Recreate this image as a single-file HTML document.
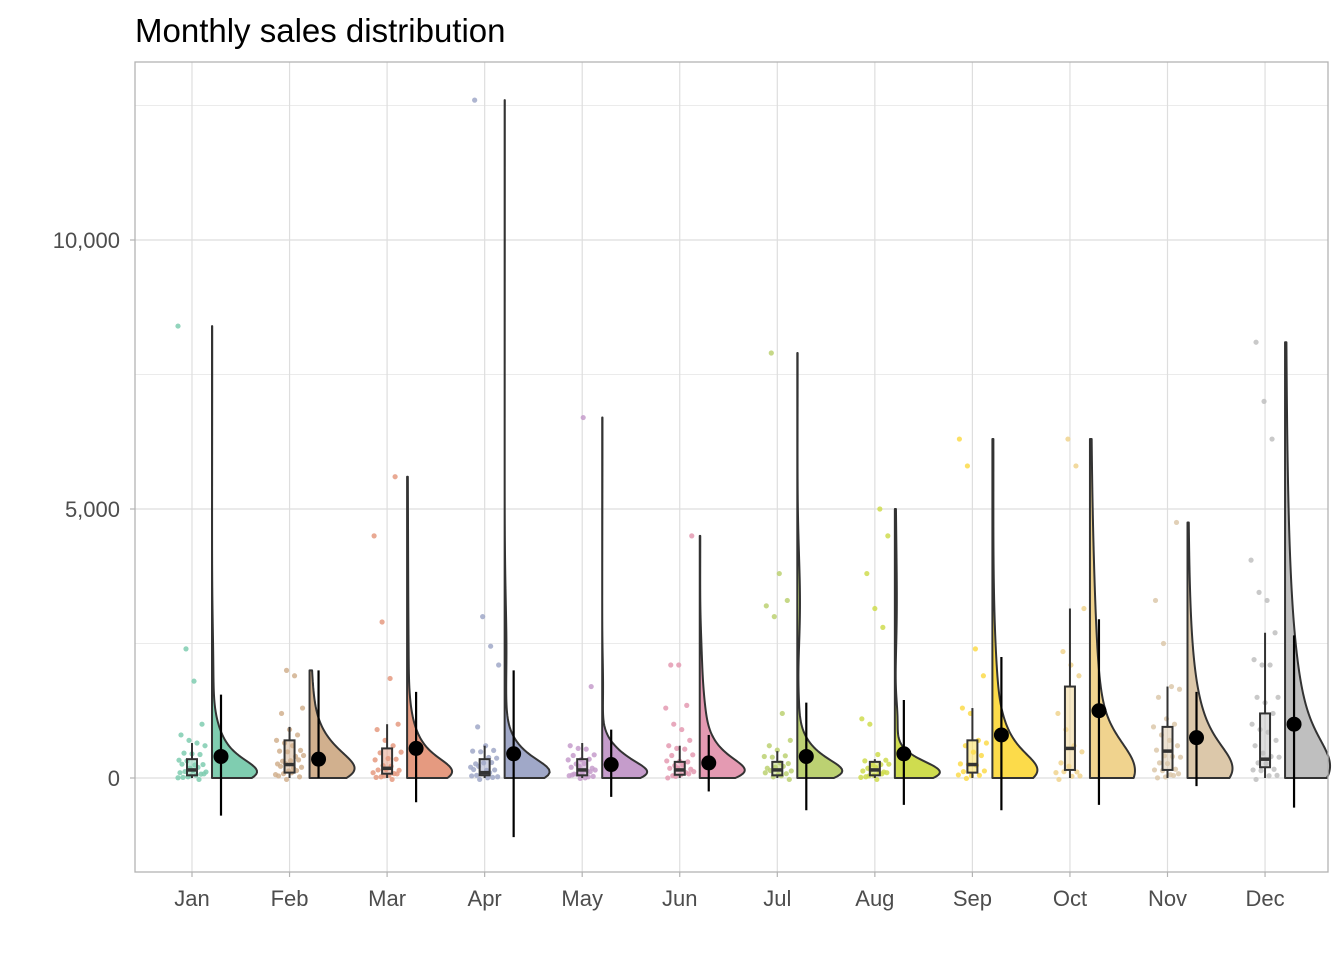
<!DOCTYPE html>
<html><head><meta charset="utf-8">
<style>
body{margin:0;background:#fff;}
svg text{font-family:"Liberation Sans",sans-serif;}
</style></head>
<body>
<svg id="chart" width="1344" height="960" viewBox="0 0 1344 960" xmlns="http://www.w3.org/2000/svg">
<rect x="0" y="0" width="1344" height="960" fill="#fff"/>
<text x="135" y="42" font-size="33" fill="#000">Monthly sales distribution</text>
<g id="grid"></g>
<g id="marks"></g>
<rect x="135" y="62" width="1193" height="810" fill="none" stroke="#b3b3b3" stroke-width="1.3"/>
<g id="axes"></g>
</svg>
<script>
const months = ["Jan","Feb","Mar","Apr","May","Jun","Jul","Aug","Sep","Oct","Nov","Dec"];
const colors = ["#7fcdb0","#d1b08e","#e59a80","#a0a8c8","#c59ccb","#e49ab2","#bcd172","#cfdc4f","#fcdb4a","#f0d38e","#dcc8aa","#bfbfbf"];
const yTicks = [0,5000,10000];
const yTickLabels = ["0","5,000","10,000"];
const yMinor = [2500,7500,12500];
const means = [400,350,550,450,250,280,400,450,800,1250,750,1000];
const meanLo = [-700,0,-450,-1100,-350,-250,-600,-500,-600,-500,-150,-550];
const meanHi = [1550,2000,1600,2000,900,800,1400,1450,2250,2950,1600,2650];
const q1 = [50,100,80,50,50,60,50,50,100,150,150,200];
const medians = [150,250,180,100,150,150,150,150,250,550,500,350];
const q3 = [350,700,550,350,350,300,300,300,700,1700,950,1200];
const whiskerHi = [650,950,1000,600,650,600,500,350,1300,3150,1700,2700];
const pts = [
 [8400,2400,1800,1000,800,700,650,600,500,450,400,350,300,280,250,220,200,180,150,120,100,90,80,60,50,40,30,20,10,5],
 [2000,1900,1300,1200,900,800,700,650,600,550,500,450,420,400,350,320,300,280,250,220,200,180,150,120,100,80,60,40,20,10],
 [5600,4500,2900,1850,1000,900,700,600,500,450,400,350,300,250,200,180,150,120,100,80,60,50,40,30,20,10],
 [12600,3000,2450,2100,950,600,550,500,450,400,350,300,280,250,220,200,180,150,120,100,80,60,50,40,30,20,10,5],
 [6700,1700,600,550,500,450,400,380,350,300,280,250,220,200,180,150,130,110,100,80,60,50,40,30,20,10,5],
 [4500,2100,2100,1350,1300,1000,900,700,600,550,500,450,400,350,300,280,250,220,200,180,150,120,100,80,60,40,20,10],
 [7900,3800,3300,3200,3000,1200,700,600,500,450,400,350,300,250,220,200,180,150,120,100,80,60,40,20,10],
 [5000,4500,3800,3150,2800,1100,1000,400,350,300,280,250,220,200,180,150,130,110,100,80,60,50,40,30,20,10],
 [6300,5800,2400,1900,1300,1200,700,650,600,500,400,300,250,200,150,100,80,50,20,10],
 [6300,5800,3150,2350,2100,1900,1200,900,600,450,300,200,150,100,80,50,20,10],
 [4750,3300,2500,1700,1650,1500,1100,1000,950,800,700,600,500,450,400,350,300,250,200,150,100,80,60,40,20,10],
 [8100,7000,6300,4050,3450,3300,2700,2200,2100,2100,1500,1500,1400,1200,1000,900,850,700,600,500,400,350,300,250,200,150,100,60,30,10]
];
const bandwidths = [180,200,200,180,150,150,150,150,250,450,350,400];

const SVGNS="http://www.w3.org/2000/svg";
const X0=192, DX=97.55;
function xScale(i){return X0+i*DX;}
function yScale(v){return 778 - v*(269/5000);}
function mk(tag,attrs,parent){const e=document.createElementNS(SVGNS,tag);for(const k in attrs)e.setAttribute(k,attrs[k]);parent.appendChild(e);return e;}
const grid=document.getElementById('grid'), marks=document.getElementById('marks'), axes=document.getElementById('axes');

yMinor.forEach(v=>{const l=mk('line',{x1:135,x2:1328,y1:yScale(v),y2:yScale(v),stroke:'#ebebeb','stroke-width':1},grid);

});
yTicks.forEach((v,k)=>{const l=mk('line',{x1:135,x2:1328,y1:yScale(v),y2:yScale(v),stroke:'#dedede','stroke-width':1.2},grid);


mk('line',{x1:130,x2:135,y1:yScale(v),y2:yScale(v),stroke:'#b3b3b3','stroke-width':1.2},axes);
const t=mk('text',{x:120,y:yScale(v)+8,'text-anchor':'end','font-size':22,fill:'#4d4d4d'},axes);t.textContent=yTickLabels[k];

});
months.forEach((m,i)=>{const x=xScale(i);
const l=mk('line',{x1:x,x2:x,y1:62,y2:872,stroke:'#dedede','stroke-width':1.2},grid);


mk('line',{x1:x,x2:x,y1:872,y2:877,stroke:'#b3b3b3','stroke-width':1.2},axes);
const t=mk('text',{x:x,y:906,'text-anchor':'middle','font-size':22,fill:'#4d4d4d'},axes);t.textContent=m;

});

months.forEach((m,i)=>{
 const cx=xScale(i), col=colors[i], data=pts[i];
 const g=mk('g',{},marks);
 
 
 data.forEach((v,k)=>{const jx=((k*37+i*11)%29)-14;const jy=((k*13+i*7)%5)-2;
  const c=mk('circle',{cx:cx+jx,cy:yScale(v)+(v<600?jy:0),r:2.6,fill:col,'fill-opacity':0.85},g);
  
  });
 const bw=5;
 const wl=mk('line',{x1:cx,x2:cx,y1:yScale(q3[i]),y2:yScale(whiskerHi[i]),stroke:'#333','stroke-width':2},g);
 
 
 const wl2=mk('line',{x1:cx,x2:cx,y1:yScale(q1[i]),y2:yScale(Math.max(0,q1[i]-200)),stroke:'#333','stroke-width':2},g);
 
 
 const bx=mk('rect',{x:cx-bw,y:yScale(q3[i]),width:2*bw,height:Math.max(yScale(q1[i])-yScale(q3[i]),3),fill:col,'fill-opacity':0.5,stroke:'#333','stroke-width':2},g);
 
 
 const md=mk('line',{x1:cx-bw,x2:cx+bw,y1:yScale(medians[i]),y2:yScale(medians[i]),stroke:'#333','stroke-width':3.5},g);
 
 
 // half violin via adaptive KDE
 const mx=Math.max(...data), h=bandwidths[i], N=240;
 const dens=[];for(let s=0;s<=N;s++){const y=mx*s/N;let d=0;data.forEach(v=>{const hk=h*(1+v/700);const z=(y-v)/hk;d+=Math.exp(-0.5*z*z)*h/hk;});dens.push([y,d]);}
 const dmax=Math.max(...dens.map(d=>d[1]));
 const vx=cx+20;
 let p='M'+vx+','+yScale(0);
 dens.forEach(([y,d])=>{p+=' L'+(vx+45*d/dmax).toFixed(2)+','+yScale(y).toFixed(2);});
 p+=' L'+vx+','+yScale(mx)+' Z';
 const vi=mk('path',{d:p,fill:col,stroke:'#333','stroke-width':2,'stroke-linejoin':'round'},g);
 
 
 const mxp=cx+29;
 const ml=mk('line',{x1:mxp,x2:mxp,y1:yScale(meanLo[i]),y2:yScale(meanHi[i]),stroke:'#000','stroke-width':2.2},g);
 
 
 const mc=mk('circle',{cx:mxp,cy:yScale(means[i]),r:7.5,fill:'#000'},g);
 
 
});
</script>
</body></html>
